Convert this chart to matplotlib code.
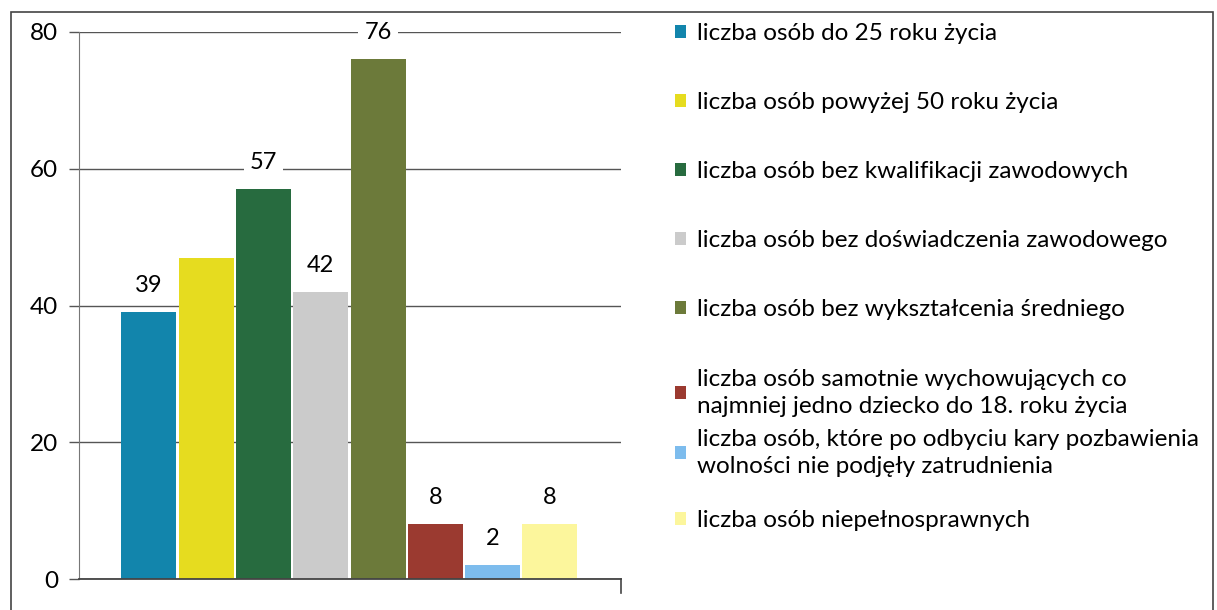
import matplotlib.pyplot as plt
from matplotlib.patches import Rectangle

plt.rcParams['font.family'] = ['Lato', 'DejaVu Sans']

labels = ['liczba osób do 25 roku życia',
          'liczba osób powyżej 50 roku życia',
          'liczba osób bez kwalifikacji zawodowych',
          'liczba osób bez doświadczenia zawodowego',
          'liczba osób bez wykształcenia średniego',
          'liczba osób samotnie wychowujących co\nnajmniej jedno dziecko do 18. roku życia',
          'liczba osób, które po odbyciu kary pozbawienia\nwolności nie podjęły zatrudnienia',
          'liczba osób niepełnosprawnych']
values = [39, 47, 57, 42, 76, 8, 2, 8]
show_label = [True, False, True, True, True, True, True, True]
colors = ['#1285ac', '#e6dc1f', '#276b3f', '#cbcbcb', '#6c7a3a', '#9b3a30', '#7dbced', '#fcf69c']
yticks = [0, 20, 40, 60, 80]

fig = plt.figure(figsize=(12.17, 6.10), dpi=100)
W, H = 1217, 610
ax = fig.add_axes([79 / W, 1 - 579 / H, (621 - 79) / W, (579 - 32) / H])

handles = []
for i, (lab, v, c) in enumerate(zip(labels, values, colors)):
    b = ax.bar(i, v, width=0.96, color=c, label=lab, zorder=2)
    handles.append(b)
    if show_label[i]:
        ax.annotate(str(v), (i, v), xytext=(0, 19), textcoords='offset points',
                    ha='center', va='center', fontsize=17, zorder=5,
                    bbox=dict(boxstyle='square,pad=0.25', fc='white', ec='none'))

ax.set_xlim(-1.22, 8.24)
ax.set_ylim(0, 80)
ax.set_yticks(yticks)
ax.set_xticks([])
ax.yaxis.grid(True, color='#555555', linewidth=1.0, zorder=0)
ax.set_axisbelow(True)
for s in ['top', 'right']:
    ax.spines[s].set_visible(False)
ax.spines['left'].set_color('#777777')
ax.spines['bottom'].set_color('#444444')
ax.spines['bottom'].set_linewidth(1.3)
ax.tick_params(axis='y', length=7, width=1, color='#555555', labelsize=17.5, pad=8)
# small tick at right end of x axis
ax.plot([1, 1], [0, -0.025], transform=ax.transAxes, color='#444444', lw=1.2, clip_on=False)

leg_kw = dict(loc='upper left', frameon=False, fontsize=17.5, handlelength=0.45, handleheight=0.45,
              handletextpad=0.45, borderpad=0, borderaxespad=0)
groups = [(0, 5, 23, 1.98), (5, 7, 369, 0.5), (7, 8, 510, 0.3)]
for a, b, top, sp in groups:
    leg = fig.legend(handles[a:b], labels[a:b], bbox_to_anchor=(675 / W, 1 - top / H),
                     labelspacing=sp, **leg_kw)
    for t in leg.get_texts():
        t.set_linespacing(1.35)

fig.patches.append(Rectangle((11 / W, -0.05), (1213 - 11) / W, 1.05 - 12 / H,
                             transform=fig.transFigure, fill=False, ec='#444444', lw=1.2))

fig.savefig('out.png', dpi=100)
